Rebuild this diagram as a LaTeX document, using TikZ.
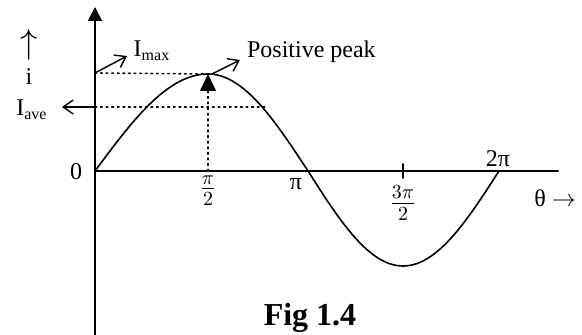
\documentclass[tikz,border=0pt]{standalone}
\usepackage{fontspec}
\setmainfont{Liberation Serif}
\usetikzlibrary{arrows.meta}
\begin{document}
\begin{tikzpicture}[x=0.5pt, y=0.5pt, font=\fontsize{12}{14}\selectfont, line join=round, line cap=round, >={Straight Barb[length=5pt,width=7pt]}]
	\useasboundingbox (0,0) rectangle (582,335);
	% Trục
	\coordinate (O) at (95,164);
	\coordinate (ytop) at (95,328);
	\coordinate (ybot) at (95,0);
	\coordinate (xend) at (558,164);
	\draw[line width=1pt, -{Triangle[length=7pt,width=7pt]}] (ybot)--(ytop);
	\draw[line width=1pt] (O)--(xend);
	% Mốc 3pi/2
	\draw[line width=0.8pt] (403,157)--(403,171);
	
	% Đường cong i(theta)
	\draw[line width=0.8pt, samples=40, smooth, variable=\t, domain=0:90]
	plot ({95+113*\t/90}, {164+97*sin(\t)})
	-- plot ({208+100*\t/90}, {164+97*cos(\t)})
	-- plot ({308+95*\t/90}, {164-95*sin(\t)})
	-- plot ({403+96*\t/90}, {164-95*cos(\t)});
	
	% Dotted: Imax, Iave, pi/2
	\coordinate (imax) at (95,262);
	\coordinate (iave) at (95,228);
	\coordinate (peak) at (208,261);
	\draw[dotted, thick] (imax)--(peak);
	\draw[dotted, thick] (iave)--(265,228);
	\draw[dotted, thick] (208,164)--(208,244);
	\draw[-{Triangle[length=8.5pt,width=8pt]}] (208,243)--(peak);
	
	% Nhãn
	\node (lblimax) at (152,284) {I\textsubscript{max}};
	\node[anchor=west] (lblpeak) at (240,283) {Positive peak};
	\node (lbliave) at (32,225) {I\textsubscript{ave}};
	\node (lblup) at (29,290) {\fontsize{17}{18}\selectfont$\uparrow$};
	\node (lbli) at (29,258) {i};
	\node (lblzero) at (76,163) {0};
	\node (lblhalf) at (208,144) {\fontsize{14}{16}\selectfont$\frac{\pi}{2}$};
	\node (lblpi) at (296,151) {π};
	\node (lblthree) at (403,132) {\fontsize{14}{16}\selectfont$\frac{3\pi}{2}$};
	\node (lbltwo) at (498,176) {2π};
	\node (lbltheta) at (555,137) {θ $\rightarrow$};
	\node (lblfig) at (310,17) {\fontsize{16}{18}\selectfont\bfseries Fig 1.4};
	
	% Mũi tên chỉ nhãn
	\coordinate (imaxtip) at (127,279);
	\coordinate (peaktip) at (240,275);
	\coordinate (iavetip) at (62,228);
	\draw[->, line width=0.7pt] (imax)--(imaxtip);
	\draw[->, line width=0.7pt] (212,261)--(peaktip);
	\draw[->, line width=0.7pt] (iave)--(iavetip);
\end{tikzpicture}
\end{document}
